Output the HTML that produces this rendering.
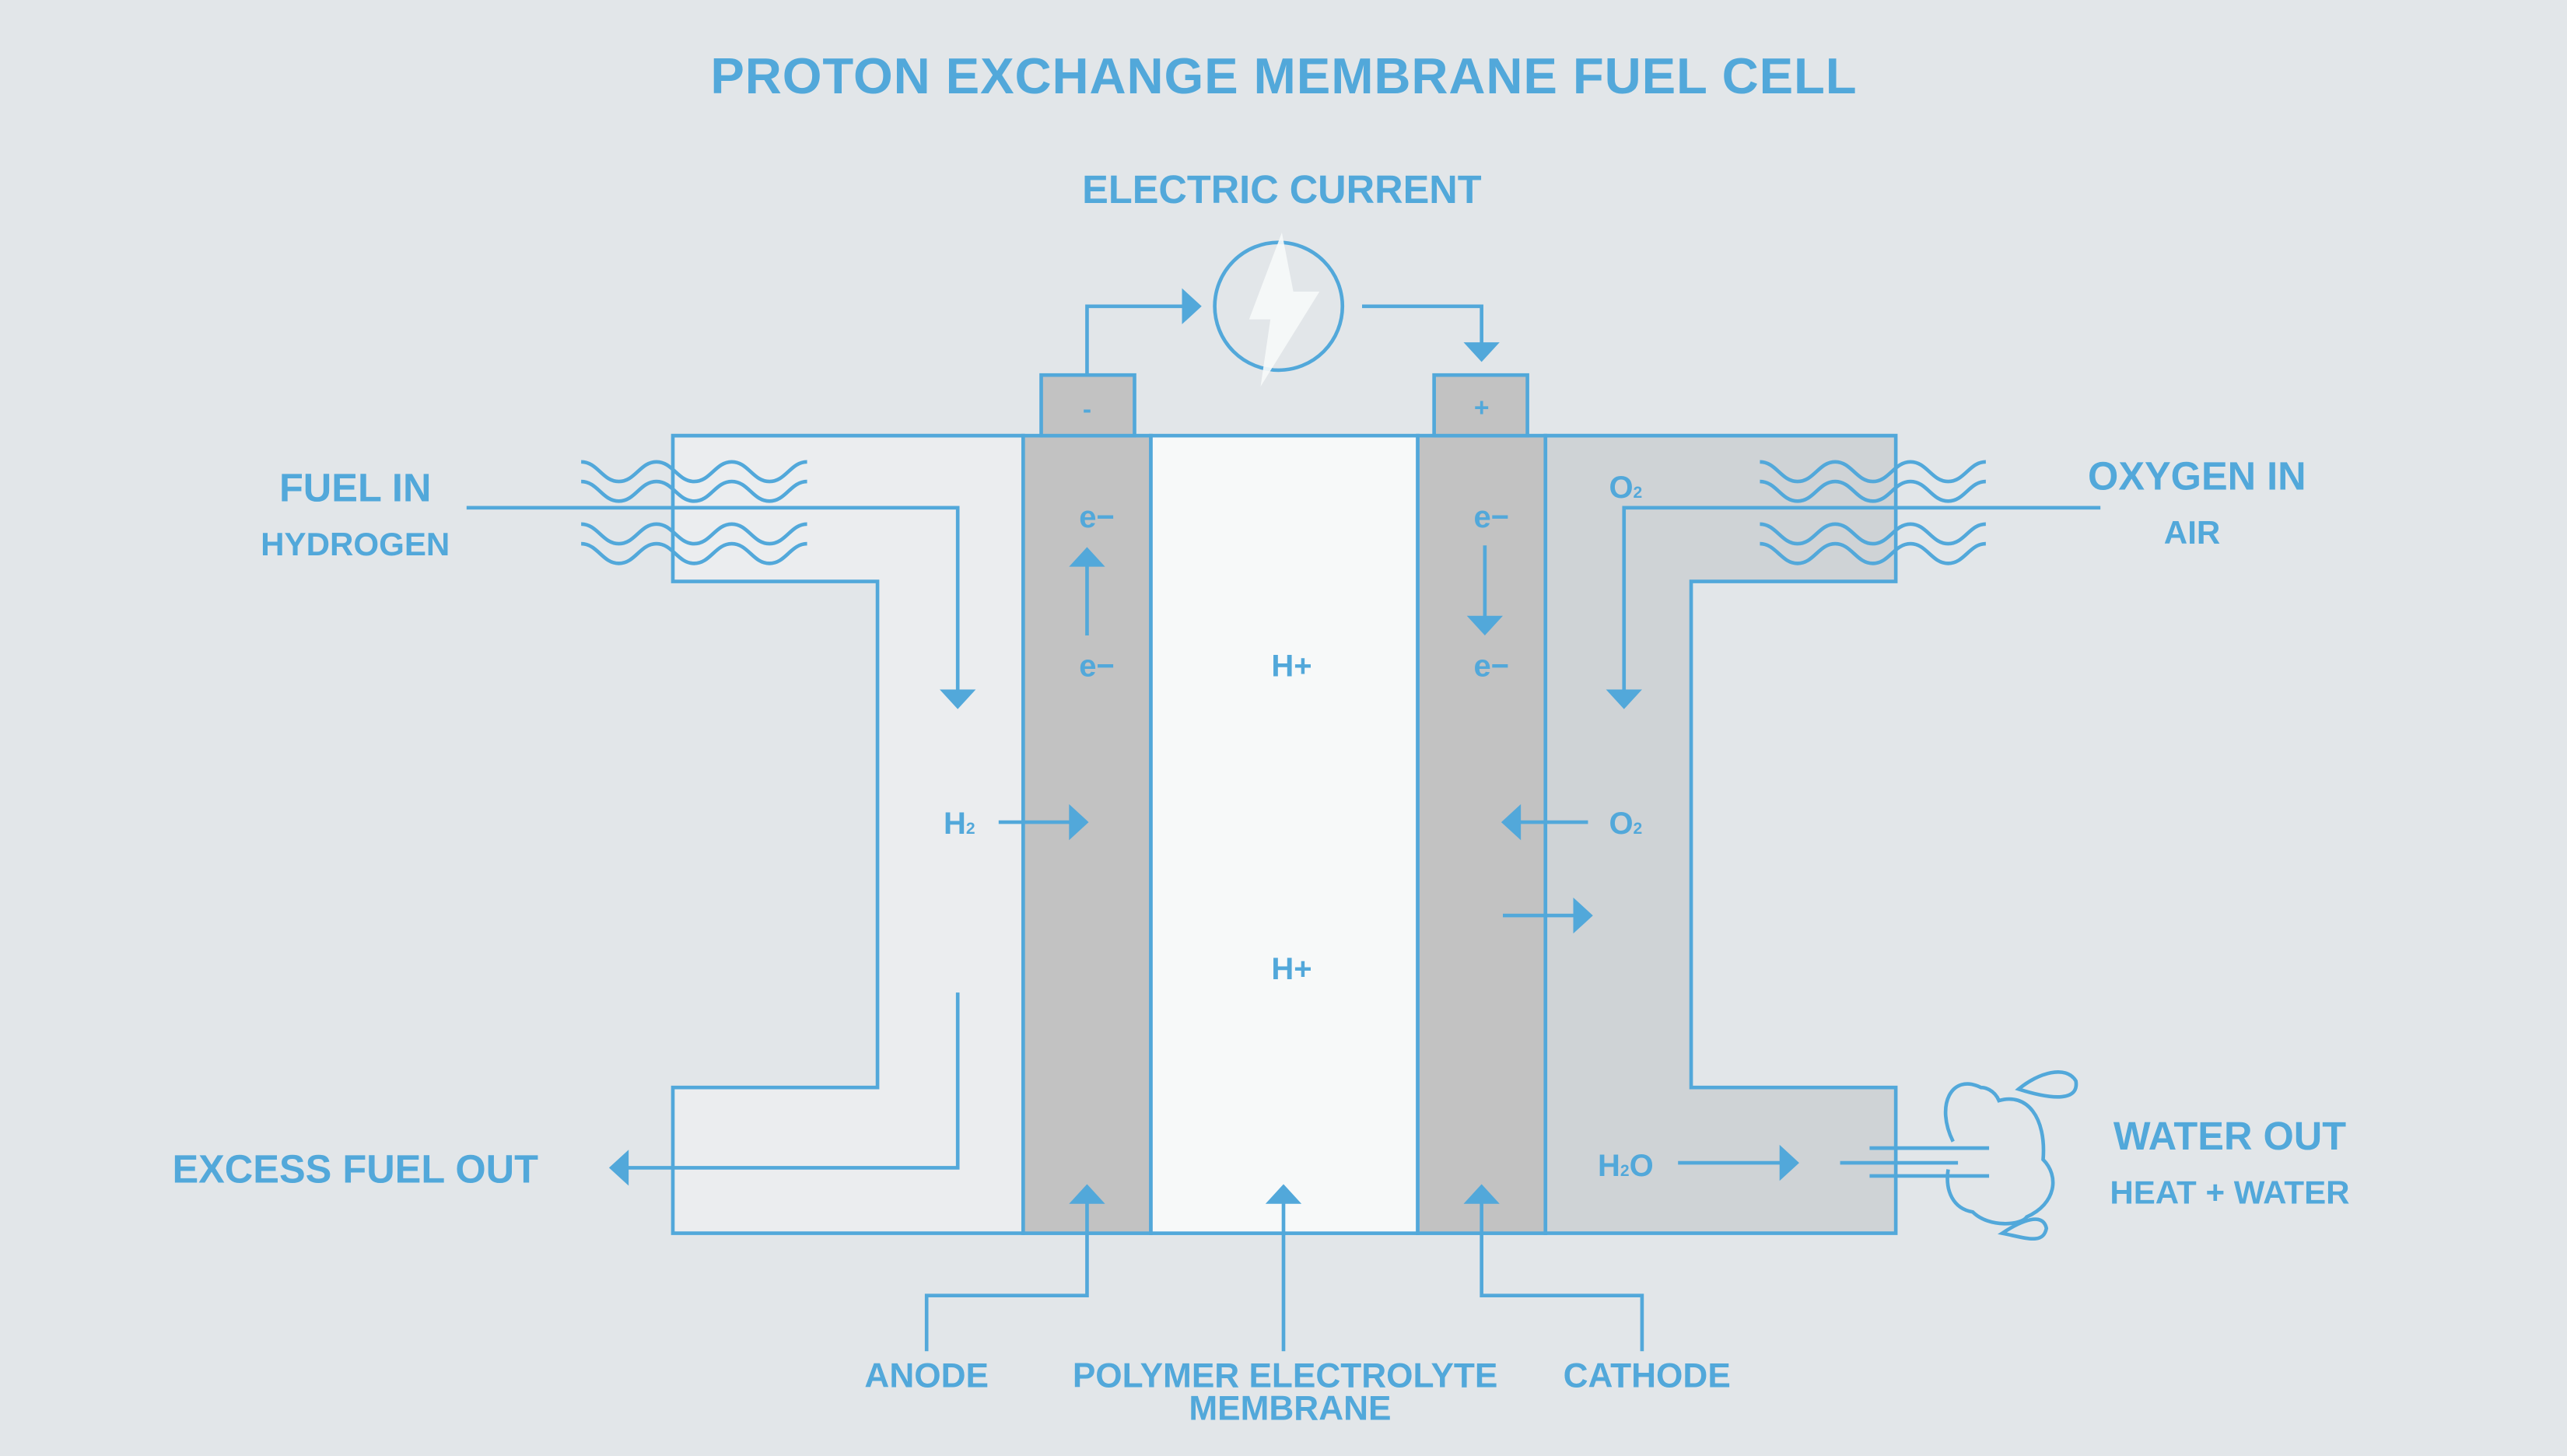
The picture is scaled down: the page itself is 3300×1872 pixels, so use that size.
<!DOCTYPE html>
<html><head><meta charset="utf-8"><style>
html,body{margin:0;padding:0;background:#e2e6e9;}
svg{display:block;}
text{font-family:"Liberation Sans",sans-serif;font-weight:bold;fill:#52a8da;}
</style></head><body>
<svg width="3300" height="1872" viewBox="0 0 1568 889" preserveAspectRatio="none" xmlns="http://www.w3.org/2000/svg">
<rect width="1568" height="889" fill="#e2e6e9"/>
<g stroke="#52a8da" stroke-width="2.2" fill="none">
<path d="M411,266 H625 V753 H411 V664 H536 V355 H411 Z" fill="#ebedef"/>
<path d="M944,266 H1158 V355 H1033 V664 H1158 V753 H944 Z" fill="#cfd3d6"/>
<rect x="625" y="266" width="78" height="487" fill="#c2c2c2"/>
<rect x="703" y="266" width="163" height="487" fill="#f7f9f9"/>
<rect x="866" y="266" width="78" height="487" fill="#c2c2c2"/>
<rect x="636" y="229" width="57" height="37" fill="#c2c2c2"/>
<rect x="876" y="229" width="57" height="37" fill="#c2c2c2"/>
<circle cx="781" cy="187" r="39"/>
<path d="M664,229 V187 H724"/>
<path d="M832,187 H905 V210"/>
<g id="w">
<path d="M355,282 c10,0 13,12 23,12 c10,0 13,-12 23,-12 c10,0 13,12 23,12 c10,0 13,-12 23,-12 c10,0 13,12 23,12 c10,0 13,-12 23,-12"/>
<path d="M355,294 c10,0 13,12 23,12 c10,0 13,-12 23,-12 c10,0 13,12 23,12 c10,0 13,-12 23,-12 c10,0 13,12 23,12 c10,0 13,-12 23,-12"/>
<path d="M355,320 c10,0 13,12 23,12 c10,0 13,-12 23,-12 c10,0 13,12 23,12 c10,0 13,-12 23,-12 c10,0 13,12 23,12 c10,0 13,-12 23,-12"/>
<path d="M355,332 c10,0 13,12 23,12 c10,0 13,-12 23,-12 c10,0 13,12 23,12 c10,0 13,-12 23,-12 c10,0 13,12 23,12 c10,0 13,-12 23,-12"/>
</g>
<use href="#w" transform="translate(720,0)"/>
<path d="M285,310 H585 V422"/>
<path d="M1283,310 H992 V422"/>
<path d="M585,606 V713 H382"/>
<path d="M610,502 H655"/>
<path d="M970,502 H928"/>
<path d="M918,559 H963"/>
<path d="M1025,710 H1089"/>
<path d="M664,388 V344"/>
<path d="M907,333 V378"/>
<path d="M664,733 V791 H566 V825"/>
<path d="M784,733 V825"/>
<path d="M905,733 V791 H1003 V825"/>
<path d="M1142,701 H1215 M1124,710 H1196 M1142,718 H1215"/>
<path d="M1193,697 C1182,675 1192,655 1210,664 C1212,664 1218,665 1221,672 C1238,667 1250,682 1248,708 C1258,718 1256,735 1238,743 C1235,748 1215,750 1205,740 C1193,738 1188,727 1190,714"/>
<path d="M1233,665 C1245,655 1262,650 1268,660 C1270,672 1255,672 1233,665 Z"/>
<path d="M1223,753 C1235,745 1248,740 1250,750 C1248,760 1238,756 1223,753 Z"/>
</g>
<path d="M783,142 L763,195 L776,195 L770,236 L806,178 L790,178 Z" fill="#f7f9f9" opacity="0.9"/>
<g fill="#52a8da">
<path d="M722,176 L734,187 L722,198 Z"/>
<path d="M894,209 L916,209 L905,221 Z"/>
<path d="M574,421 L596,421 L585,433 Z"/>
<path d="M981,421 L1003,421 L992,433 Z"/>
<path d="M384,702 L384,724 L372,713 Z"/>
<path d="M653,491 L665,502 L653,513 Z"/>
<path d="M929,491 L917,502 L929,513 Z"/>
<path d="M961,548 L973,559 L961,570 Z"/>
<path d="M1087,699 L1099,710 L1087,721 Z"/>
<path d="M653,346 L675,346 L664,334 Z"/>
<path d="M896,376 L918,376 L907,388 Z"/>
<path d="M653,735 L675,735 L664,723 Z"/>
<path d="M773,735 L795,735 L784,723 Z"/>
<path d="M894,735 L916,735 L905,723 Z"/>
</g>
<text x="784" y="57" font-size="31" text-anchor="middle" textLength="700">PROTON EXCHANGE MEMBRANE FUEL CELL</text>
<text x="783" y="124" font-size="24" text-anchor="middle">ELECTRIC CURRENT</text>
<text x="664" y="255" font-size="16" text-anchor="middle">-</text>
<text x="905" y="254" font-size="16" text-anchor="middle">+</text>
<text x="217" y="306" font-size="24" text-anchor="middle">FUEL IN</text>
<text x="217" y="339" font-size="20" text-anchor="middle">HYDROGEN</text>
<text x="1342" y="299" font-size="24" text-anchor="middle">OXYGEN IN</text>
<text x="1339" y="332" font-size="20" text-anchor="middle">AIR</text>
<text x="217" y="722" font-size="24" text-anchor="middle">EXCESS FUEL OUT</text>
<text x="1362" y="702" font-size="24" text-anchor="middle">WATER OUT</text>
<text x="1362" y="735" font-size="20" text-anchor="middle">HEAT + WATER</text>
<text x="670" y="322" font-size="19" text-anchor="middle">e−</text>
<text x="670" y="413" font-size="19" text-anchor="middle">e−</text>
<text x="911" y="322" font-size="19" text-anchor="middle">e−</text>
<text x="911" y="413" font-size="19" text-anchor="middle">e−</text>
<text x="789" y="413" font-size="19" text-anchor="middle">H+</text>
<text x="789" y="598" font-size="19" text-anchor="middle">H+</text>
<text x="586" y="509" font-size="19" text-anchor="middle">H<tspan font-size="10">2</tspan></text>
<text x="993" y="509" font-size="19" text-anchor="middle">O<tspan font-size="10">2</tspan></text>
<text x="993" y="304" font-size="19" text-anchor="middle">O<tspan font-size="10">2</tspan></text>
<text x="993" y="718" font-size="19" text-anchor="middle">H<tspan font-size="10">2</tspan>O</text>
<text x="566" y="847" font-size="21" text-anchor="middle">ANODE</text>
<text x="785" y="847" font-size="21" text-anchor="middle">POLYMER ELECTROLYTE</text>
<text x="788" y="867" font-size="21" text-anchor="middle">MEMBRANE</text>
<text x="1006" y="847" font-size="21" text-anchor="middle">CATHODE</text>
</svg>
</body></html>
